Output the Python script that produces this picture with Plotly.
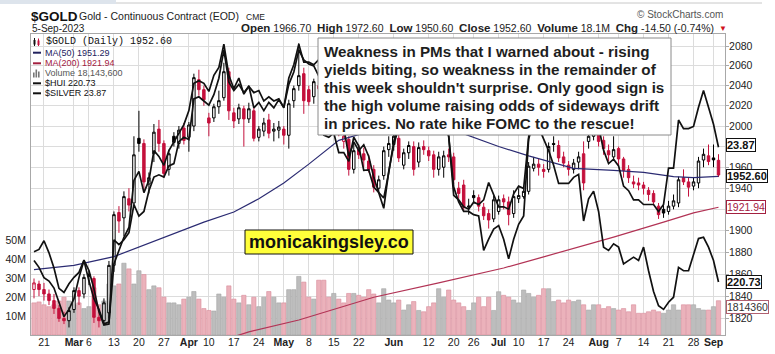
import math
import plotly.graph_objects as go

# ---------------- data ----------------
opens = [1846,1851,1846,1842,1836,1829,1820,1818,1828,1845,1842,1860,1856,1821,1818,1825,1868,1917,1912,1930,
         1926,1988,1983,1944,1973,1997,1983,1958,1990,1983,1998,1989,2000,2046,2036,2008,2008,2019,2028,2054,
         2013,2007,2017,2007,2015,1989,1995,2006,1995,1996,1997,1991,2025,2040,2052,2036,2029,2040,2038,2025,
         2018,2022,1985,1987,1958,1977,1973,1966,1958,1940,1952,1977,1982,1988,1962,1974,1980,1965,1980,1976,
         1972,1958,1960,1972,1970,1940,1943,1922,1933,1931,1922,1916,1911,1918,1930,1927,1916,1930,1932,1937,
         1959,1963,1958,1958,1983,1981,1970,1962,1958,1965,1973,1985,1990,1997,1986,1976,1970,1978,1968,1958,
         1946,1945,1943,1938,1935,1923,1920,1918,1923,1926,1950,1946,1942,1945,1967,1971,1969,1966.7]
highs = [1856,1854,1852,1846,1842,1832,1826,1830,1848,1848,1860,1863,1858,1826,1838,1872,1918,1923,1937,1940,
         1990,2015,1987,1955,2002,2006,1986,1977,1994,2000,2003,2004,2052,2056,2040,2013,2022,2035,2063,2058,
         2018,2022,2020,2023,2018,2000,2008,2012,2003,2005,2000,2026,2040,2083,2058,2040,2047,2050,2042,2030,
         2028,2025,1995,1990,1984,1982,1979,1972,1962,1952,1980,1990,2000,1995,1978,1985,1985,1984,1986,1980,
         1976,1975,1976,1978,1974,1946,1948,1930,1938,1934,1926,1920,1933,1933,1934,1932,1938,1940,1942,1965,
         1970,1968,1963,1984,1990,1986,1975,1966,1968,1975,1985,1994,2006,2000,1990,1982,1990,1980,1970,1962,
         1952,1950,1946,1941,1938,1926,1924,1928,1934,1951,1958,1950,1950,1970,1978,1982,1982,1972.6]
lows = [1838,1840,1836,1832,1824,1817,1815,1812,1825,1832,1838,1850,1816,1812,1814,1820,1862,1898,1895,1918,
        1922,1975,1936,1935,1965,1975,1950,1952,1980,1978,1982,1975,1995,2030,2020,1990,2004,2012,2025,2006,
        1998,2002,1980,2003,1985,1985,1990,1988,1985,1988,1982,1978,2018,2035,2012,2020,2022,2025,2018,2010,
        2012,1990,1978,1952,1954,1968,1960,1955,1936,1936,1948,1970,1976,1965,1958,1968,1952,1960,1972,1966,
        1950,1952,1950,1965,1944,1930,1918,1915,1926,1918,1910,1902,1908,1915,1920,1905,1912,1926,1930,1934,
        1956,1952,1950,1955,1975,1965,1960,1952,1954,1958,1938,1978,1986,1980,1972,1966,1966,1962,1950,1945,
        1940,1938,1934,1928,1924,1911,1912,1915,1920,1922,1943,1932,1938,1940,1960,1962,1960,1950.6]
closes = [1852,1846,1842,1836,1829,1820,1818,1827,1845,1840,1857,1858,1821,1818,1834,1868,1915,1909,1932,1924,
          1972,1983,1946,1950,1994,1983,1954,1973,1984,1996,1986,2001,2048,2036,2026,2003,2019,2025,2054,2015,
          2005,2018,2007,2017,1988,1997,2003,1993,1997,1999,1991,2022,2037,2050,2025,2024,2044,2037,2025,2019,
          2022,1995,1990,1958,1976,1972,1967,1958,1941,1948,1976,1983,1990,1969,1974,1981,1958,1979,1977,1971,
          1958,1970,1971,1970,1948,1935,1922,1923,1931,1923,1914,1910,1929,1929,1927,1915,1932,1933,1937,1961,
          1963,1960,1956,1980,1982,1969,1964,1958,1964,1970,1945,1990,2001,1985,1978,1972,1977,1968,1957,1950,
          1944,1943,1940,1934,1927,1915,1916.5,1923,1928,1948,1946,1941,1946,1966,1972.5,1965.5,1967.1,1952.6]
prev_close_before_first = 1855
volume_m = [17,17.5,16,15,16,18,20,18,16,17,14,15,25,16,18,27,26,27,38,35,
            27,34,32,24,26,25,20,17,17,16,19,20,23,19,14,13,12.7,21.7,20,26,
            19,17,21,16,20,15,20,23,20,17,17,24,24,31,28,20,19,29,29,20,
            22,19,17,22,22,21,20,24,21.7,17,24.5,18.5,17,18.5,13.2,16,17.7,13,12.3,15,
            17,24.5,20,23.8,18.5,17,15,13,17,20,15,20,13,22.9,21,20,18.5,17,23.8,22,
            20,21,24.5,24.5,17.7,18.5,17,18.5,17.7,18.5,16,13.2,16,16,14,15,14,13.2,14,12.3,
            16,11.5,11.5,12.3,13.2,12.3,11.5,13.2,16,13.2,16,16,16,14,13.2,13.2,15,18.14]
ma50_idx = [0,8,16,24,34,40,45,50,55,61,66,72,78,84,88,93,99,102,108,116,122,128,132,137]
ma50_val = [1864,1868,1876,1890,1908,1917.5,1930,1945,1963,1986,1993,1999,2000,1996,1989,1980,
            1971,1967,1959,1957,1955,1951,1950,1951.29]
ma200_idx = [35,43,53,68,81,94,102,116,126,132,137]
ma200_val = [1797,1808,1818.6,1839,1852,1865.6,1875.8,1894,1908,1916.6,1921.94]
hui = [227,225,222,221,219,215,211,213,216,222,227,221,216,213,209,209.5,226,230,234,237,
       252,255,248,252,262,260,257,262,265,268,271,276,286,287,286,283,289,292,301,289,
       284,288,282,285,277,279,276,279,277,280,277,288,293,301,294,294,293,295,285,282,
       283,273,270,260,265,262,264,260,253,248,243,255,264,270,272,274,272,280,278,274,
       270,272,274,267,249.8,245,242,242,241,240.6,230,233.4,236.5,237.6,233.4,227.5,233.4,238,240.6,266,
       272,270,266,262,257,251,251,251,253,254,239,246,248.5,242,231,230,232,231,226,227,
       228,227,231,224,218,214,213,215,216.4,225,224,224,229,233.6,234,231,227,220.73]
silver = [21.60,21.65,21.83,21.58,21.27,20.86,20.78,20.95,21.08,21.18,21.43,21.22,20.85,20.40,20.14,20.16,21.85,21.75,21.85,22.0,
          22.6,22.35,22.45,22.9,23.2,23.25,23.2,23.45,23.5,24.0,24.1,24.05,25.0,25.05,24.95,24.85,25.1,25.5,26.2,25.4,
          25.2,25.35,25.15,25.3,25.15,25.2,24.95,25.05,24.95,25.0,24.8,25.35,25.65,26.2,25.95,25.85,25.8,25.55,24.15,24.1,
          24.2,23.75,23.75,23.55,24.1,23.9,23.35,23.36,22.98,22.87,22.74,23.3,24.0,24.45,24.5,24.4,24.35,24.9,24.85,24.55,
          24.4,24.5,24.6,24.12,22.8,22.7,22.55,22.5,22.65,22.6,22.7,23.08,22.8,22.55,22.55,22.5,22.83,23.0,22.95,24.1,
          25.0,24.9,24.9,25.1,25.3,24.9,24.55,24.4,24.6,24.9,24.3,24.35,24.8,24.35,23.8,23.5,23.6,23.45,23.0,22.9,
          22.7,22.7,22.6,22.6,22.6,22.45,22.6,23.4,23.4,24.5,24.3,24.3,24.35,24.8,25.2,24.8,24.4,23.87]
tick_idx = [2,8,11,16,21,26,31,35,40,45,50,55,60,65,72,79,84,88,93,97,102,107,113,117,122,127,132,136]
tick_text = ["21","<b>Mar</b>","6","13","20","27","<b>Apr</b>","10","17","24","<b>May</b>","8","15","22",
             "<b>Jun</b>","12","20","26","<b>Jul</b>","10","17","24","<b>Aug</b>","7","14","21","28","<b>Sep</b>"]
price_ticks = [1820,1840,1860,1880,1900,1920,1940,1960,1980,2000,2020,2040,2060,2080]
hidden_price_labels = [1920, 1980]   # covered by the value tags in the original
vol_ticks = [10,20,30,40,50]
comment_lines = ["Weakness in PMs that I warned about - rising",
                 "yields biting, so weakness in the remainder of",
                 "this week shouldn't surprise. Only good sign is",
                 "the high volume raising odds of sideways drift",
                 "in prices. No rate hike FOMC to the rescue!"]

# ---------------- helpers ----------------
L, R, T, B = 31, 725, 34, 335
def px(x): return (x - L) / (R - L)
def py(y): return (B - y) / (B - T)

SANS = "Liberation Sans, Arial, sans-serif"
RED = "#c4103c"
n = len(closes)
idx = list(range(n))
prev = [prev_close_before_first] + closes[:-1]
down = [closes[i] < prev[i] for i in idx]

fig = go.Figure()

# volume (base axis y)
fig.add_trace(go.Bar(x=idx, y=volume_m, yaxis="y", width=0.86,
                     marker=dict(color=["#ebb2bb" if d else "#bdbdbd" for d in down],
                                 line=dict(color=["#d98c9a" if d else "#a4a4a4" for d in down], width=0.6)),
                     hoverinfo="skip"))

# candles split by colour (vs previous close)
def sub(sel):
    return dict(x=[i for i in idx if sel(i)], open=[opens[i] for i in idx if sel(i)],
                high=[highs[i] for i in idx if sel(i)], low=[lows[i] for i in idx if sel(i)],
                close=[closes[i] for i in idx if sel(i)])
for col, sel in (("#000000", lambda i: not down[i]), (RED, lambda i: down[i])):
    d = sub(sel)
    fig.add_trace(go.Candlestick(**d, yaxis="y2", whiskerwidth=0,
                                 increasing=dict(line=dict(color=col, width=1), fillcolor="#ffffff"),
                                 decreasing=dict(line=dict(color=col, width=1), fillcolor=col),
                                 hoverinfo="skip"))

fig.add_trace(go.Scatter(x=ma200_idx, y=ma200_val, yaxis="y2", mode="lines",
                         line=dict(color="#b23355", width=1.2), hoverinfo="skip"))
fig.add_trace(go.Scatter(x=ma50_idx, y=ma50_val, yaxis="y2", mode="lines",
                         line=dict(color="#2b2b72", width=1.2), hoverinfo="skip"))
fig.add_trace(go.Scatter(x=idx, y=hui, yaxis="y3", mode="lines",
                         line=dict(color="#111111", width=1.7), hoverinfo="skip"))
fig.add_trace(go.Scatter(x=idx, y=silver, yaxis="y4", mode="lines",
                         line=dict(color="#111111", width=1.7), hoverinfo="skip"))

grid = "#dcdcdc"
frame = "#a8a8a8"
fig.update_layout(
    width=775, height=354, margin=dict(l=L, r=775 - R, t=T, b=354 - B, autoexpand=False),
    paper_bgcolor="white", plot_bgcolor="white", showlegend=False, boxgap=0.3,
    font=dict(family=SANS, size=10, color="#222"),
    xaxis=dict(range=[-0.6, 138.3], tickvals=tick_idx, ticktext=tick_text, showgrid=True,
               gridcolor=grid, showline=True, linecolor=frame, mirror=True, zeroline=False,
               ticks="", ticklabelstandoff=-3, automargin=False,
               tickfont=dict(size=10.5, family=SANS, color="#222"),
               rangeslider=dict(visible=False)),
    yaxis=dict(range=[0, 159.3], tickvals=vol_ticks, ticktext=[f"{v}M" for v in vol_ticks],
               side="left", showgrid=False, zeroline=False, showline=True, linecolor=frame, mirror=True,
               ticks="outside", ticklen=2, tickcolor="rgba(0,0,0,0)", automargin=False,
               tickfont=dict(size=10.5, family=SANS, color="#222")),
    yaxis2=dict(type="log", range=[math.log10(1805.3), math.log10(2092.3)], overlaying="y", side="right",
                tickvals=price_ticks, automargin=False,
                ticktext=["" if v in hidden_price_labels else str(v) for v in price_ticks],
                showgrid=True, gridcolor=grid, ticklabelstandoff=-2,
                zeroline=False, ticks="outside", ticklen=3, tickcolor=frame,
                tickfont=dict(size=10.5, family=SANS, color="#222")),
    yaxis3=dict(type="log", range=[math.log10(206), math.log10(305)], overlaying="y", visible=False,
                automargin=False),
    yaxis4=dict(type="log", range=[math.log10(19.95), math.log10(26.6)], overlaying="y", visible=False,
                automargin=False),
)

shapes = []
ann = []
def text(x, y, s, size=10, color="#222", fam=SANS, xa="left", **kw):
    ann.append(dict(x=px(x), y=py(y), xref="paper", yref="paper", text=s, showarrow=False,
                    xanchor=xa, yanchor="middle", font=dict(size=size, color=color, family=fam), **kw))

# top decoration
shapes.append(dict(type="rect", xref="paper", yref="paper", x0=px(0), x1=px(116), y0=py(4), y1=py(0),
                   fillcolor="#dde4ec", line=dict(width=0), layer="above"))
shapes.append(dict(type="line", xref="paper", yref="paper", x0=px(116), x1=px(762), y0=py(3), y1=py(3),
                   line=dict(color="#c8c8c8", width=1), layer="above"))

# header
text(29, 16, "<b>$GOLD</b>", size=13.5, color="#111")
text(77, 16.5, "Gold - Continuous Contract (EOD)", size=10.5, color="#222")
text(244, 17, "CME", size=8.5, color="#222")
text(30, 28.5, "5-Sep-2023", size=10, color="#222")
text(725, 15, "© StockCharts.com", size=10, color="#555", xa="right")
sp = "\u00a0"
def lab(s): return f"<b><span style='font-size:11.5px'>{s}</span></b>"
stats = (f"{lab('Open')} 1966.70{sp}{sp}{lab('High')} 1972.60{sp}{sp}{lab('Low')} 1950.60{sp}{sp}"
         f"{lab('Close')} 1952.60{sp}{sp}{lab('Volume')} 18.1M{sp}{sp}{lab('Chg')} -14.50 (-0.74%)")
text(716, 28.5, stats, size=10.5, color="#222", xa="right")
text(717, 28.5, "▼", size=8, color="#d01020")

# legend
legend_rows = [(41.7, "$GOLD (Daily) 1952.60", "#111", "Liberation Mono, monospace", 10),
               (52.7, "MA(50) 1951.29", "#22225e", SANS, 9),
               (63.3, "MA(200) 1921.94", "#a3203f", SANS, 9),
               (73.3, "Volume 18,143,600", "#555", SANS, 9),
               (83.3, "$HUI 220.73", "#111", SANS, 9),
               (93.3, "$SILVER 23.87", "#111", SANS, 9)]
for k, (yy, s, c, fam, fs) in enumerate(legend_rows):
    text(44 if k == 0 else 43, yy, s, size=fs, color=c, fam=fam)
# icons
shapes += [dict(type="line", xref="paper", yref="paper", x0=px(34.5), x1=px(34.5), y0=py(46), y1=py(38),
                line=dict(color="#111", width=1), layer="above"),
           dict(type="rect", xref="paper", yref="paper", x0=px(33.5), x1=px(35.5), y0=py(44.5), y1=py(40),
                fillcolor="#111", line=dict(width=0), layer="above"),
           dict(type="line", xref="paper", yref="paper", x0=px(38.5), x1=px(38.5), y0=py(46), y1=py(38.5),
                line=dict(color=RED, width=1), layer="above"),
           dict(type="rect", xref="paper", yref="paper", x0=px(37.5), x1=px(39.5), y0=py(45), y1=py(40.5),
                fillcolor=RED, line=dict(width=0), layer="above")]
for yy, c in ((52.7, "#22225e"), (63.3, "#a3203f"), (83.3, "#111"), (93.3, "#111")):
    shapes.append(dict(type="line", xref="paper", yref="paper", x0=px(33), x1=px(41), y0=py(yy), y1=py(yy),
                       line=dict(color=c, width=2), layer="above"))
for x0, h in ((33, 5), (35.5, 8), (38, 6)):
    shapes.append(dict(type="rect", xref="paper", yref="paper", x0=px(x0), x1=px(x0 + 1.6), y0=py(77.5),
                       y1=py(77.5 - h), fillcolor="#777", line=dict(width=0), layer="above"))

# comment box
shapes.append(dict(type="rect", xref="paper", yref="paper", x0=px(318), x1=px(671), y0=py(135), y1=py(38),
                   fillcolor="white", line=dict(color="#8a8a8a", width=1), layer="above"))
for k, s in enumerate(comment_lines):
    text(322, 51 + k * 18.2, f"<b>{s}</b>", size=15.2, color="#1e1e1e")

# watermark box
shapes.append(dict(type="rect", xref="paper", yref="paper", x0=px(245), x1=px(413), y0=py(254), y1=py(230),
                   fillcolor="#ffff3a", line=dict(color="#111", width=1), layer="above"))
text(329, 242.5, "<b>monicakingsley.co</b>", size=18, color="#111", xa="center")

# right value tags
tags = [(145, "<b>23.87</b>", "#111", "#111", 11),
        (175.5, "<b>1952.60</b>", "#111", "#111", 11),
        (207, "1921.94", "#a3203f", "#a3203f", 10.5),
        (282, "<b>220.73</b>", "#111", "#111", 11),
        (307, "1814360", "#333", "#b06070", 10.5)]
for yy, s, c, bc, fs in tags:
    text(725.5, yy, s, size=fs, color=c, bgcolor="white", bordercolor=bc, borderwidth=1, borderpad=0)

fig.update_layout(shapes=shapes, annotations=ann)
fig.write_html("out.html")
